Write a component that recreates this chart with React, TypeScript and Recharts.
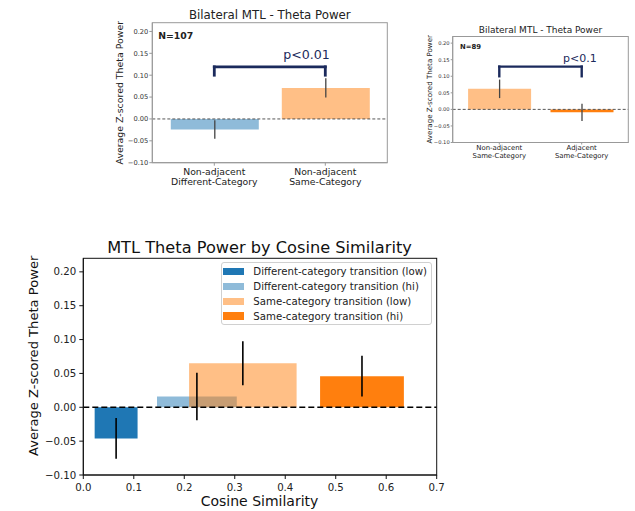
import {
  ComposedChart,
  Bar,
  ErrorBar,
  Cell,
  XAxis,
  YAxis,
  ReferenceLine,
  ReferenceArea,
  Legend,
} from 'recharts';

const yTicks = [-0.1, -0.05, 0, 0.05, 0.1, 0.15, 0.2];
const yDomain: [number, number] = [-0.1, 0.22];

// top left panel
const leftCategories = ['Non-adjacent\nDifferent-Category', 'Non-adjacent\nSame-Category'];
const leftMeans = [-0.024, 0.071];
const leftSem = [0.021, 0.022];
const leftColors = ['#8fbbd9', '#ffbf86'];
const leftBracket = [0.1, 0.119];

// top right panel
const rightCategories = ['Non-adjacent\nSame-Category', 'Adjacent\nSame-Category'];
const rightMeans = [0.062, -0.009];
const rightSem = [0.028, 0.026];
const rightColors = ['#ffbf86', '#ff7f0e'];
const rightBracket = [0.1, 0.129];

// bottom panel
const simLabels = [
  'Different-category transition (low)',
  'Different-category transition (hi)',
  'Same-category transition (low)',
  'Same-category transition (hi)',
];
const simCenters = [0.065, 0.225, 0.316, 0.552];
const simWidths = [0.085, 0.158, 0.213, 0.166];
const simMeans = [-0.046, 0.016, 0.065, 0.046];
const simSem = [0.03, 0.035, 0.0325, 0.03];
const simColors = ['#1f77b4', '#1f77b4', '#ff7f0e', '#ff7f0e'];
const simAlpha = [1, 0.5, 0.5, 1];
const simXTicks = [0, 0.1, 0.2, 0.3, 0.4, 0.5, 0.6, 0.7];

const NAVY = '#1b2a5c';
const fmt2 = (v: number) => (v < 0 ? '\u2212' : '') + Math.abs(v).toFixed(2);

function TwoLineTick({ x, y, payload, fontSize, first, gap }: any) {
  const lines = String(payload.value).split('\n');
  return (
    <text x={x} y={y} textAnchor="middle" fontSize={fontSize} fill="#222">
      {lines.map((l, i) => (
        <tspan key={i} x={x} dy={i === 0 ? first : gap}>
          {l}
        </tspan>
      ))}
    </text>
  );
}

interface PanelProps {
  left: number;
  top: number;
  width: number;
  height: number;
  margin: { top: number; right: number; bottom: number; left: number };
  yWidth: number;
  xHeight: number;
  pad: number;
  barSize: number;
  cats: string[];
  means: number[];
  sem: number[];
  colors: string[];
  bracket: number[];
  tickFont: number;
  labelFont: number;
  labelFirst: number;
  labelGap: number;
  tickSize: number;
  bracketWidth: number;
}

function Panel(p: PanelProps) {
  const data = p.cats.map((name, i) => ({ name, value: p.means[i], err: p.sem[i] }));
  const [c0, c1] = p.cats;
  const [b0, b1] = p.bracket;
  return (
    <div style={{ position: 'absolute', left: p.left, top: p.top }}>
      <ComposedChart width={p.width} height={p.height} data={data} margin={p.margin}>
        <XAxis
          dataKey="name"
          height={p.xHeight}
          padding={{ left: p.pad, right: p.pad }}
          axisLine={{ stroke: '#999' }}
          tickLine={{ stroke: '#999' }}
          tickSize={p.tickSize}
          tickMargin={0}
          interval={0}
          tick={(t: any) => (
            <TwoLineTick {...t} fontSize={p.labelFont} first={p.labelFirst} gap={p.labelGap} />
          )}
        />
        <YAxis
          type="number"
          domain={yDomain}
          ticks={yTicks}
          allowDataOverflow
          width={p.yWidth}
          tickFormatter={fmt2}
          tick={{ fontSize: p.tickFont, fill: '#333' }}
          tickSize={p.tickSize}
          tickMargin={1}
          axisLine={{ stroke: '#999' }}
          tickLine={{ stroke: '#999' }}
        />
        <Bar dataKey="value" barSize={p.barSize} isAnimationActive={false}>
          {data.map((_, i) => (
            <Cell key={i} fill={p.colors[i]} />
          ))}
          <ErrorBar dataKey="err" width={0} stroke="#444" strokeWidth={1.3} direction="y" />
        </Bar>
        <ReferenceLine y={0} stroke="#444" strokeDasharray="3 2" strokeWidth={0.9} />
        <ReferenceLine
          segment={[{ x: c0, y: b0 }, { x: c0, y: b1 }]}
          stroke={NAVY}
          strokeWidth={p.bracketWidth}
          strokeLinecap="square"
          ifOverflow="visible"
        />
        <ReferenceLine
          segment={[{ x: c0, y: b1 }, { x: c1, y: b1 }]}
          stroke={NAVY}
          strokeWidth={p.bracketWidth}
          strokeLinecap="square"
          ifOverflow="visible"
        />
        <ReferenceLine
          segment={[{ x: c1, y: b0 }, { x: c1, y: b1 }]}
          stroke={NAVY}
          strokeWidth={p.bracketWidth}
          strokeLinecap="square"
          ifOverflow="visible"
        />
      </ComposedChart>
    </div>
  );
}

function SimLegend() {
  return (
    <div
      style={{
        width: 211,
        height: 63.4,
        boxSizing: 'border-box',
        border: '1px solid #d0d0d0',
        borderRadius: 3,
        background: 'rgba(255,255,255,0.85)',
        paddingTop: 1.6,
        fontSize: 10.2,
        color: '#222',
      }}
    >
      {simLabels.map((l, i) => (
        <div key={l} style={{ display: 'flex', alignItems: 'center', height: 14.8 }}>
          <span
            style={{
              display: 'inline-block',
              width: 21,
              height: 7.5,
              marginLeft: 1.6,
              marginRight: 9,
              background: simColors[i],
              opacity: simAlpha[i],
            }}
          />
          <span style={{ whiteSpace: 'nowrap' }}>{l}</span>
        </div>
      ))}
    </div>
  );
}

function SimChart() {
  const data = simCenters.map((x, i) => ({ x, y: simMeans[i] }));
  return (
    <div style={{ position: 'absolute', left: 0, top: 230 }}>
      <ComposedChart
        width={460}
        height={281}
        data={data}
        margin={{ top: 28.3, right: 23.3, bottom: 0, left: 0 }}
      >
        <XAxis
          type="number"
          dataKey="x"
          domain={[0, 0.7]}
          ticks={simXTicks}
          allowDataOverflow
          height={36}
          tickFormatter={(v: number) => v.toFixed(1)}
          tick={{ fontSize: 10.2, fill: '#222' }}
          tickSize={4}
          tickMargin={5}
          axisLine={{ stroke: '#111' }}
          tickLine={{ stroke: '#111' }}
        />
        <YAxis
          type="number"
          domain={yDomain}
          ticks={yTicks}
          allowDataOverflow
          width={83.3}
          tickFormatter={fmt2}
          tick={{ fontSize: 10.2, fill: '#222' }}
          tickSize={4}
          tickMargin={3}
          axisLine={{ stroke: '#111' }}
          tickLine={{ stroke: '#111' }}
        />
        {simCenters.map((c, i) => (
          <ReferenceArea
            key={'bar' + i}
            x1={c - simWidths[i] / 2}
            x2={c + simWidths[i] / 2}
            y1={0}
            y2={simMeans[i]}
            fill={simColors[i]}
            fillOpacity={simAlpha[i]}
            stroke="none"
            ifOverflow="visible"
          />
        ))}
        <ReferenceLine y={0} stroke="#000" strokeDasharray="6 3" strokeWidth={1.4} />
        {simCenters.map((c, i) => (
          <ReferenceLine
            key={'err' + i}
            segment={[
              { x: c, y: simMeans[i] - simSem[i] },
              { x: c, y: simMeans[i] + simSem[i] },
            ]}
            stroke="#000"
            strokeWidth={1.6}
            ifOverflow="visible"
          />
        ))}
        <Legend
          layout="vertical"
          align="center"
          verticalAlign="middle"
          content={() => <SimLegend />}
          wrapperStyle={{ left: 220.7, top: 31.7, width: 211, height: 63.4 }}
        />
      </ComposedChart>
    </div>
  );
}

export default function App() {
  return (
    <div
      style={{
        position: 'absolute',
        left: 0,
        top: 0,
        width: 635,
        height: 511,
        background: '#fff',
        fontFamily: '"DejaVu Sans", sans-serif',
      }}
    >
      <Panel
        left={100}
        top={0}
        width={300}
        height={200}
        margin={{ top: 22.7, right: 12.7, bottom: 0, left: 0 }}
        yWidth={52.3}
        xHeight={37.3}
        pad={6.5}
        barSize={88}
        cats={leftCategories}
        means={leftMeans}
        sem={leftSem}
        colors={leftColors}
        bracket={leftBracket}
        tickFont={6.7}
        labelFont={9.3}
        labelFirst={9.5}
        labelGap={10}
        tickSize={3}
        bracketWidth={2.8}
      />
      <Panel
        left={415}
        top={0}
        width={220}
        height={170}
        margin={{ top: 36.5, right: 6.7, bottom: 0, left: 0 }}
        yWidth={37.7}
        xHeight={27.5}
        pad={5.4}
        barSize={63}
        cats={rightCategories}
        means={rightMeans}
        sem={rightSem}
        colors={rightColors}
        bracket={rightBracket}
        tickFont={5.2}
        labelFont={6.9}
        labelFirst={5}
        labelGap={8}
        tickSize={2}
        bracketWidth={2.4}
      />
      <SimChart />
      <svg
        width={635}
        height={511}
        style={{ position: 'absolute', left: 0, top: 0, pointerEvents: 'none' }}
      >
        {/* axes frames */}
        <rect x={152.3} y={22.7} width={235} height={140} fill="none" stroke="#999" />
        <rect x={452.7} y={36.5} width={175.6} height={106} fill="none" stroke="#999" />
        <rect x={83.3} y={258.3} width={353.4} height={216.7} fill="none" stroke="#111" />

        <text x={269.8} y={18.5} textAnchor="middle" fontSize={11.8} fill="#222">
          Bilateral MTL - Theta Power
        </text>
        <text
          x={123.4}
          y={92.7}
          textAnchor="middle"
          fontSize={9.4}
          fill="#222"
          transform="rotate(-90 123.4 92.7)"
        >
          Average Z-scored Theta Power
        </text>
        <text x={158.3} y={39.2} fontSize={9.3} fontWeight="bold" fill="#222">
          N=107
        </text>
        <text x={283.3} y={58.7} fontSize={12.6} fill={NAVY}>
          p&lt;0.01
        </text>

        <text x={540.5} y={33.3} textAnchor="middle" fontSize={9} fill="#222">
          Bilateral MTL - Theta Power
        </text>
        <text
          x={431.9}
          y={89.3}
          textAnchor="middle"
          fontSize={7.1}
          fill="#222"
          transform="rotate(-90 431.9 89.3)"
        >
          Average Z-scored Theta Power
        </text>
        <text x={460} y={48.6} fontSize={6.85} fontWeight="bold" fill="#222">
          N=89
        </text>
        <text x={563} y={61.7} fontSize={11} fill={NAVY}>
          p&lt;0.1
        </text>

        <text x={259.5} y={253.3} textAnchor="middle" fontSize={16.2} fill="#111">
          MTL Theta Power by Cosine Similarity
        </text>
        <text
          x={37.9}
          y={355.8}
          textAnchor="middle"
          fontSize={13.1}
          fill="#111"
          transform="rotate(-90 37.9 355.8)"
        >
          Average Z-scored Theta Power
        </text>
        <text x={259.5} y={506.1} textAnchor="middle" fontSize={14} fill="#111">
          Cosine Similarity
        </text>
      </svg>
    </div>
  );
}
